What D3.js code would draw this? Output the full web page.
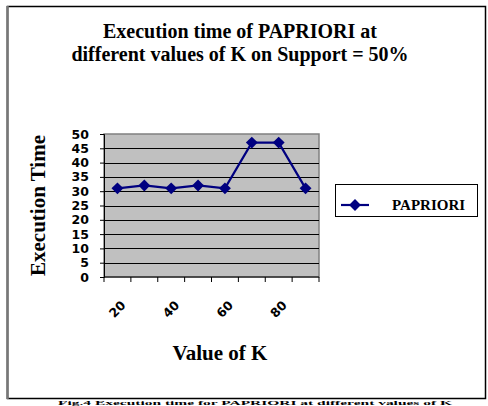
<!DOCTYPE html>
<html>
<head>
<meta charset="utf-8">
<script src="https://cdn.jsdelivr.net/npm/d3@7"></script>
<style>
  body { margin: 0; background: #fff; }
  svg { display: block; }
</style>
</head>
<body>
<svg id="chart"></svg>
<script>
const width = 488, height = 406;

// data
const kValues = [20, 30, 40, 50, 60, 70, 80, 90];
const execTimes = [31, 32, 31, 32, 31, 47, 47, 31];
const kLabels = ['20', '', '40', '', '60', '', '80', ''];
const yTicks = [0, 5, 10, 15, 20, 25, 30, 35, 40, 45, 50];
const seriesName = 'PAPRIORI';

const plot = {left: 104, right: 319, top: 134, bottom: 277};
const serif = '"Liberation Serif", "Times New Roman", serif';
const sans = '"DejaVu Sans", Verdana, sans-serif';

const svg = d3.select('#chart')
  .attr('width', width)
  .attr('height', height);

// outer frame
svg.append('rect')
  .attr('x', 7.5).attr('y', 6.5)
  .attr('width', 478).attr('height', 392)
  .attr('fill', '#fff')
  .attr('stroke', '#000').attr('stroke-width', 1.5);
svg.append('line')
  .attr('x1', 7.5).attr('x2', 7.5).attr('y1', 6).attr('y2', 399)
  .attr('stroke', '#777').attr('stroke-width', 2.5);

// title
const title = svg.append('text')
  .attr('text-anchor', 'middle')
  .style('font-family', serif)
  .style('font-weight', 'bold')
  .style('font-size', '20px');
title.append('tspan').attr('x', 240).attr('y', 38).text('Execution time of PAPRIORI at');
title.append('tspan').attr('x', 240).attr('y', 61).text('different values of K on Support = 50%');

const x = d3.scaleBand()
  .domain(kValues)
  .range([plot.left, plot.right]);

const y = d3.scaleLinear()
  .domain([0, 50])
  .range([plot.bottom, plot.top]);

// plot background
svg.append('rect')
  .attr('x', plot.left).attr('y', plot.top)
  .attr('width', plot.right - plot.left)
  .attr('height', plot.bottom - plot.top)
  .attr('fill', '#c0c0c0')
  .attr('stroke', '#808080')
  .attr('stroke-width', 1.5);

// gridlines
svg.append('g')
  .selectAll('line')
  .data(yTicks.filter(d => d > 0 && d < 50))
  .enter()
  .append('line')
  .attr('x1', plot.left).attr('x2', plot.right)
  .attr('y1', d => Math.round(y(d)) + 0.5)
  .attr('y2', d => Math.round(y(d)) + 0.5)
  .attr('stroke', '#000')
  .attr('stroke-width', 1);

// y axis
const yAxis = svg.append('g')
  .attr('transform', `translate(${plot.left},0)`)
  .call(d3.axisLeft(y).tickValues(yTicks).tickSize(4).tickPadding(11));
yAxis.selectAll('text')
  .style('font-family', sans)
  .style('font-weight', 'bold')
  .style('font-size', '12.5px')
  .attr('fill', '#000');
yAxis.selectAll('line, path').attr('stroke', '#000');

// x axis with ticks between categories
const xAxisG = svg.append('g');
xAxisG.append('line')
  .attr('x1', plot.left).attr('x2', plot.right)
  .attr('y1', plot.bottom).attr('y2', plot.bottom)
  .attr('stroke', '#000');
const bounds = kValues.map(d => x(d)).concat([x(kValues[kValues.length - 1]) + x.bandwidth()]);
xAxisG.selectAll('.tick')
  .data(bounds)
  .enter()
  .append('line')
  .attr('x1', d => d).attr('x2', d => d)
  .attr('y1', plot.bottom).attr('y2', plot.bottom + 5)
  .attr('stroke', '#000');
xAxisG.selectAll('text')
  .data(kValues)
  .enter()
  .append('text')
  .attr('transform', d => `translate(${x(d) + x.bandwidth() / 2 + 6},${plot.bottom + 26}) rotate(-45)`)
  .attr('text-anchor', 'end')
  .attr('dy', '0.35em')
  .style('font-family', sans)
  .style('font-weight', 'bold')
  .style('font-size', '12.5px')
  .text((d, i) => kLabels[i]);

// series
const pts = kValues.map((k, i) => ({k: k, v: execTimes[i]}));
const line = d3.line()
  .x(d => x(d.k) + x.bandwidth() / 2)
  .y(d => y(d.v));
svg.append('path')
  .datum(pts)
  .attr('d', line)
  .attr('fill', 'none')
  .attr('stroke', '#000080')
  .attr('stroke-width', 2.2);
const diamond = d3.symbol().type(d3.symbolDiamond2).size(90);
svg.append('g')
  .selectAll('path')
  .data(pts)
  .enter()
  .append('path')
  .attr('d', diamond)
  .attr('transform', d => `translate(${x(d.k) + x.bandwidth() / 2},${y(d.v)})`)
  .attr('fill', '#000080');

// axis titles
svg.append('text')
  .attr('transform', `translate(45,${(plot.top + plot.bottom) / 2}) rotate(-90)`)
  .attr('text-anchor', 'middle')
  .style('font-family', serif)
  .style('font-weight', 'bold')
  .style('font-size', '21px')
  .text('Execution Time');

svg.append('text')
  .attr('x', 220).attr('y', 360)
  .attr('text-anchor', 'middle')
  .style('font-family', serif)
  .style('font-weight', 'bold')
  .style('font-size', '21px')
  .text('Value of K');

// legend
const lg = svg.append('g');
lg.append('rect')
  .attr('x', 335.5).attr('y', 184.5)
  .attr('width', 142).attr('height', 32)
  .attr('fill', '#fff')
  .attr('stroke', '#000');
lg.append('line')
  .attr('x1', 341).attr('x2', 369)
  .attr('y1', 205).attr('y2', 205)
  .attr('stroke', '#000080').attr('stroke-width', 2.2);
lg.append('path')
  .attr('d', diamond)
  .attr('transform', 'translate(355,205)')
  .attr('fill', '#000080');
lg.append('text')
  .attr('x', 392).attr('y', 210)
  .style('font-family', serif)
  .style('font-weight', 'bold')
  .style('font-size', '15px')
  .text(seriesName);

// caption below the frame, squeezed to fit the bottom strip
svg.append('text')
  .attr('x', 58).attr('y', 405)
  .attr('textLength', 394)
  .attr('lengthAdjust', 'spacingAndGlyphs')
  .style('font-family', serif)
  .style('font-weight', 'bold')
  .style('font-size', '7px')
  .text('Fig.4 Execution time for PAPRIORI at different values of K');
</script>
</body>
</html>
